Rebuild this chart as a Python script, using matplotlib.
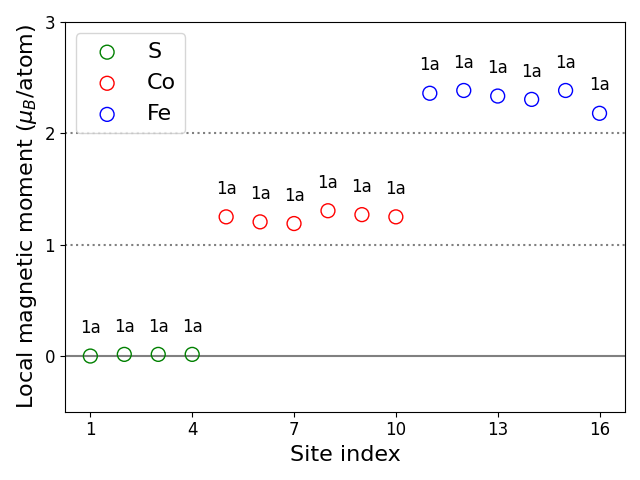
import numpy as np
import matplotlib
matplotlib.use('Agg')
import matplotlib.pyplot as plt

# site indices and local moments per species
s_sites = [1, 2, 3, 4]
s_moments = [0.00, 0.015, 0.015, 0.015]
co_sites = [5, 6, 7, 8, 9, 10]
co_moments = [1.25, 1.205, 1.19, 1.305, 1.27, 1.25]
fe_sites = [11, 12, 13, 14, 15, 16]
fe_moments = [2.36, 2.385, 2.335, 2.305, 2.385, 2.18]
wyckoff = ['1a'] * 16

xticks = [1, 4, 7, 10, 13, 16]

fig, ax = plt.subplots(figsize=(6.4, 4.8), dpi=100)

ax.axhline(0, color='gray', lw=1.5, zorder=0)
ax.axhline(1, color='gray', ls=':', lw=1.5, zorder=0)
ax.axhline(2, color='gray', ls=':', lw=1.5, zorder=0)

groups = [(s_sites, s_moments, 'green', 'S'),
          (co_sites, co_moments, 'red', 'Co'),
          (fe_sites, fe_moments, 'blue', 'Fe')]
for sites, moments, col, name in groups:
    ax.scatter(sites, moments, s=100, facecolors='none', edgecolors=col, label=name)
    for x, y in zip(sites, moments):
        ax.text(x, y + 0.25, wyckoff[x - 1], ha='center', va='center', fontsize=12)

ax.set_xlim(0.25, 16.75)
ax.set_ylim(-0.5, 3)
ax.set_xticks(xticks)
ax.set_yticks([0, 1, 2, 3])
ax.tick_params(labelsize=12)
ax.set_xlabel('Site index', fontsize=16)
ax.set_ylabel(r'Local magnetic moment ($\mu_B$/atom)', fontsize=16)
ax.legend(loc='upper left', fontsize=16)

fig.tight_layout()
fig.savefig('out.png')
